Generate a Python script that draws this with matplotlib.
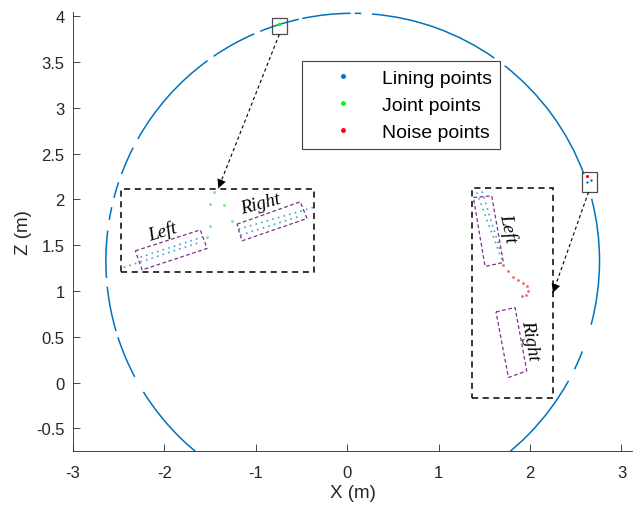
import numpy as np
import matplotlib.pyplot as plt
from matplotlib.patches import Arc, Rectangle, Polygon
from matplotlib.lines import Line2D

plt.rcParams['font.family'] = ['Liberation Sans', 'DejaVu Sans']

# tunnel lining (circle fitted to the scan) and the arcs where points exist
center = (0.06, 1.33)
radius = 2.7
arc_starts = [-60, -26, -15, 20.5, 55, 88, 90.5, 102.6, 113.5, 126, 152.8, 161.5, 167.5, 173, 186, 198, 212]
arc_ends = [-29, -21.5, 14.5, 52, 85.5, 89.5, 101.8, 112, 124.3, 150.5, 159.5, 165.3, 170.5, 184, 196.5, 208, 240]

# small boxes on the lining (x0, y0, w, h)
zoom_boxes = [(-0.823, 3.80, 0.164, 0.18), (2.565, 2.08, 0.164, 0.22)]
# points inside the small boxes
box_joint_x = [-0.743]
box_joint_y = [3.913]
box_noise_x = [2.626]
box_noise_y = [2.25]
box_lining_x = [2.62, 2.665]
box_lining_y = [2.19, 2.21]

# enlarged views (x0, y0, w, h)
inset_boxes = [(-2.48, 1.205, 2.12, 0.905), (1.363, -0.163, 0.892, 2.283)]
arrow_starts = [(-0.743, 3.80), (2.64, 2.08)]
arrow_ends = [(-1.41, 2.12), (2.25, 0.98)]

# lining segments in the enlarged views (x1, y1, x2, y2)
inset_lining = [(-2.445, 1.257, -1.607, 1.533), (-2.262, 1.369, -1.588, 1.587),
                (-1.188, 1.675, -0.368, 1.912), (-1.169, 1.609, -0.514, 1.817),
                (1.417, 2.075, 1.691, 1.344), (1.475, 2.086, 1.672, 1.453)]
inset_joint_x = [-1.461, -1.497, -1.352, -1.497, -1.533, -1.26]
inset_joint_y = [2.075, 1.948, 1.937, 1.711, 1.584, 1.765]
inset_noise_x = [1.705, 1.760, 1.814, 1.869, 1.923, 1.967, 1.978, 1.956, 1.913]
inset_noise_y = [1.282, 1.216, 1.151, 1.118, 1.085, 1.052, 0.998, 0.954, 0.943]

# purple frames around left / right lining
segment_frames = [
    [(-2.317, 1.438), (-1.607, 1.667), (-1.533, 1.464), (-2.244, 1.230)],
    [(-1.205, 1.729), (-0.514, 1.973), (-0.440, 1.791), (-1.151, 1.547)],
    [(1.380, 2.021), (1.581, 2.038), (1.708, 1.311), (1.508, 1.267)],
    [(1.628, 0.772), (1.836, 0.820), (1.964, 0.128), (1.763, 0.056)],
]
frame_labels = ['Left', 'Right', 'Left', 'Right']
label_pos = [(-2.025, 1.656), (-0.951, 1.959), (1.763, 1.693), (2.0, 0.474)]
label_rot = [17, 15, -78, -80]

blue = '#0072BD'
purple = '#7E2F8E'
gray = '#262626'

fig = plt.figure(figsize=(6.39, 5.06), dpi=100)
ax = fig.add_axes([0.1142, 0.1067, 0.8748, 0.8676])

for t1, t2 in zip(arc_starts, arc_ends):
    ax.add_patch(Arc(center, 2 * radius, 2 * radius, theta1=t1, theta2=t2,
                     color=blue, lw=1.1))

for x0, y0, w, h in zoom_boxes:
    ax.add_patch(Rectangle((x0, y0), w, h, fill=False, ec='#4d4d4d', lw=0.9))
ax.plot(box_joint_x, box_joint_y, '.', color='#00ff00', ms=3)
ax.plot(box_noise_x, box_noise_y, '.', color='red', ms=2.5)
ax.plot(box_lining_x, box_lining_y, '.', color=blue, ms=1.5)

for x0, y0, w, h in inset_boxes:
    ax.add_patch(Rectangle((x0, y0), w, h, fill=False, ec='k', lw=1.1,
                           ls=(0, (4, 3))))

for (sx, sy), (ex, ey) in zip(arrow_starts, arrow_ends):
    ax.plot([sx, ex], [sy, ey], color='k', lw=0.8, ls=(0, (3, 2.5)))
    ax.annotate('', xy=(ex, ey), xytext=(sx + 0.02 * (sx - ex), sy),
                arrowprops=dict(arrowstyle='-|>', color='k', lw=0, mutation_scale=16,
                                shrinkA=0, shrinkB=0),
                annotation_clip=False)

for x1, y1, x2, y2 in inset_lining:
    ax.plot([x1, x2], [y1, y2], color='#4a9fd8', lw=1.2, ls=(0, (1, 2.5)))
ax.plot(inset_joint_x, inset_joint_y, '.', color='#7de27d', ms=2)
ax.plot(inset_noise_x, inset_noise_y, '.', color='#f06a6a', ms=2)

for corners in segment_frames:
    ax.add_patch(Polygon(corners, closed=True, fill=False, ec=purple, lw=0.9,
                         ls=(0, (3, 2))))
for txt, (lx, ly), rot in zip(frame_labels, label_pos, label_rot):
    ax.text(lx, ly, txt, rotation=rot, ha='center', va='center', fontsize=13.5,
            family='Liberation Serif', style='italic', rotation_mode='anchor')

handles = [Line2D([], [], ls='', marker='.', color=blue, ms=5),
           Line2D([], [], ls='', marker='.', color='#00ff00', ms=5),
           Line2D([], [], ls='', marker='.', color='red', ms=5)]
leg = ax.legend(handles, ['Lining points', 'Joint points', 'Noise points'],
                loc='upper left', bbox_to_anchor=(0.41, 0.888), borderaxespad=0,
                fontsize=14, handlelength=3.42, handletextpad=0.3, borderpad=0.4,
                labelspacing=0.5, fancybox=False, framealpha=1)
leg.get_frame().set_edgecolor('#404040')
leg.get_frame().set_linewidth(0.8)

ax.set_xlim(-3, 3.115)
ax.set_ylim(-0.746, 4.044)
ax.set_xticks([-3, -2, -1, 0, 1, 2, 3])
ax.set_yticks([-0.5, 0, 0.5, 1, 1.5, 2, 2.5, 3, 3.5, 4])
ax.set_yticklabels(['-0.5', '0', '0.5', '1', '1.5', '2', '2.5', '3', '3.5', '4'])
ax.set_xticklabels(['-3', '-2', '-1', '0', '1', '2', '3'])
ax.spines['top'].set_visible(False)
ax.spines['right'].set_visible(False)
for s in ('left', 'bottom'):
    ax.spines[s].set_color(gray)
    ax.spines[s].set_linewidth(0.6)
ax.tick_params(direction='in', length=5, width=0.6, colors=gray, labelsize=12)
ax.tick_params(axis='y', pad=6)
ax.tick_params(axis='x', pad=10)
ax.set_xlabel('X (m)', fontsize=13.5, color=gray, labelpad=3)
ax.set_ylabel('Z (m)', fontsize=13.5, color=gray, labelpad=3)

fig.savefig('out.png', dpi=100)
